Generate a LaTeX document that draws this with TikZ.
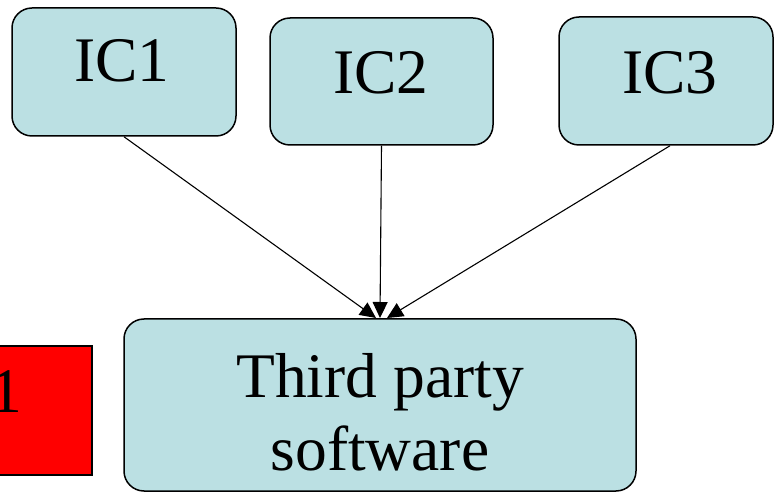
\documentclass[tikz,border=0pt]{standalone}
\usepackage{fontspec}
\setmainfont{Liberation Serif}
\usetikzlibrary{arrows.meta}
\definecolor{boxfill}{RGB}{187,224,227}
\definecolor{alarm}{RGB}{255,0,0}
\tikzset{
  icbox/.style={draw=black, line width=1.5pt, fill=boxfill, rounded corners=20pt, inner sep=0pt},
  bigtext/.style={font=\fontsize{63.5}{72}\selectfont, inner sep=0pt, align=center},
  feed/.style={draw=black, line width=1.1pt, -{Triangle[length=16pt,width=15pt]}}
}
\begin{document}
\begin{tikzpicture}[x=1pt, y=-1pt]
  \useasboundingbox (0,0) rectangle (777,494);
  \clip (0,0) rectangle (777,494);
  % source boxes
  \node[icbox, minimum width=224pt, minimum height=128pt] (ic1) at (124,72) {};
  \node[icbox, minimum width=223pt, minimum height=127pt] (ic2) at (381.5,81.5) {};
  \node[icbox, minimum width=214pt, minimum height=128pt] (ic3) at (666,81) {};
  \node[bigtext, anchor=base] (ic1t) at (122,82) {IC1};
  \node[bigtext, anchor=base] (ic2t) at (381,94) {IC2};
  \node[bigtext, anchor=base] (ic3t) at (670,94) {IC3};
  % receiving box
  \node[icbox, minimum width=512pt, minimum height=172pt] (tp) at (380,405) {};
  \node[bigtext, anchor=base] (tpa) at (380,398) {Third party};
  \node[bigtext, anchor=base] (tpb) at (380,470) {software};
  % red block partly outside the frame
  \node[draw=black, line width=1.5pt, fill=alarm, minimum width=110pt, minimum height=129pt, inner sep=0pt] (red) at (37,410.5) {};
  \node[bigtext, anchor=base east] (redt) at (22,413) {1};
  % arrow targets on the top edge
  \coordinate (in1) at (376,318);
  \coordinate (in2) at (380,318);
  \coordinate (in3) at (387,318);
  \draw[feed] (ic1.south) -- (in1);
  \draw[feed] (ic2.south) -- (in2);
  \draw[feed] ([xshift=4pt]ic3.south) -- (in3);
\end{tikzpicture}
\end{document}
